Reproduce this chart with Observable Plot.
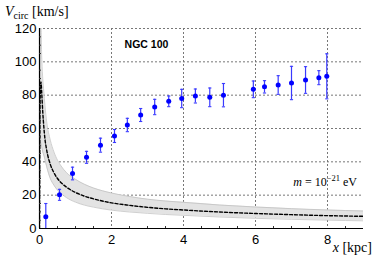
<!DOCTYPE html>
<html>
<head>
<meta charset="utf-8">
<script src="https://cdn.jsdelivr.net/npm/d3@7"></script>
<script src="https://cdn.jsdelivr.net/npm/@observablehq/plot@0.6"></script>
<style>
  html, body { margin: 0; padding: 0; background: white; }
</style>
</head>
<body>
<div id="chart"></div>
<script>
// Observed rotation curve of NGC 100
const obsX   = [0.175, 0.556, 0.917, 1.306, 1.694, 2.083, 2.44, 2.81, 3.2, 3.59, 3.95, 4.33, 4.73, 5.11, 5.94, 6.25, 6.63, 7.0, 7.39, 7.76, 7.98];
const obsV   = [7, 20.2, 33, 42.7, 50, 55.5, 62.1, 68.1, 72.9, 76.3, 78, 79.5, 78.7, 80, 83.5, 85, 86.1, 87.3, 89.1, 90.5, 91.3];
const obsErr = [8, 3.3, 3.8, 3.6, 4.2, 3.9, 4.0, 3.9, 4.6, 3.2, 5.5, 4.2, 5.6, 7.0, 5.0, 3.7, 5.6, 10, 8, 4.2, 13.5];

// Model curve (dashed) and its band
const modX    = [0, 0.015, 0.04, 0.06, 0.09, 0.12, 0.15, 0.2, 0.3, 0.4, 0.5, 0.6, 0.75, 1, 1.25, 1.5, 2, 2.5, 3, 3.5, 4, 5, 6, 7, 8, 9];
const modMid  = [0, 75, 88, 82, 70, 61, 54, 47, 38.5, 33.5, 30, 27.5, 24.8, 21.6, 19.4, 17.8, 15.4, 13.9, 12.7, 11.8, 11.1, 9.9, 9.0, 8.3, 7.7, 7.3];
const modHigh = [0, 122, 122, 104, 90, 82, 74, 64, 53, 46, 41, 37.5, 33.5, 29.5, 26.5, 24.3, 21.3, 19.2, 17.6, 16.5, 15.7, 14.1, 12.9, 11.9, 11.1, 10.5];
const modLow  = [0, 52, 51, 49, 46, 44, 41.5, 37, 30, 26, 23, 21, 18.5, 15.8, 14, 12.8, 11, 9.9, 9.1, 8.4, 7.9, 6.9, 6.1, 5.5, 5.0, 4.6];

const xTicks = [0, 2, 4, 6, 8];
const yTicks = [0, 20, 40, 60, 80, 100, 120];
const gridXs = [2, 4, 6, 8];
const gridYs = [20, 40, 60, 80, 100, 120];
const minorX = [0.5, 1, 1.5, 2.5, 3, 3.5, 4.5, 5, 5.5, 6.5, 7, 7.5, 8.5];
const minorY = [5, 10, 15, 25, 30, 35, 45, 50, 55, 65, 70, 75, 85, 90, 95, 105, 110, 115];

const galaxyName = "NGC 100";

const points = obsX.map((x, i) => ({x, v: obsV[i], e: obsErr[i]}));
const model = modX.map((x, i) => ({x, mid: modMid[i], high: modHigh[i], low: modLow[i]}));

const capSymbol = {
  draw(context, size) {
    const w = Math.sqrt(size / Math.PI);
    context.moveTo(-w, 0);
    context.lineTo(w, 0);
  }
};

const blue = "#0000ff";
const barBlue = "#3a3aff";

const chart = Plot.plot({
  width: 374,
  height: 259,
  marginLeft: 39,
  marginRight: 11,
  marginTop: 28,
  marginBottom: 31,
  x: {domain: [0, 9]},
  y: {domain: [0, 120]},
  style: {fontFamily: "'Liberation Sans', Arial, sans-serif", fontSize: "13px", background: "white", color: "black"},
  marks: [
    Plot.gridX(gridXs, {stroke: "#777", strokeOpacity: 1, strokeDasharray: "2,2", strokeWidth: 1}),
    Plot.gridY(gridYs, {stroke: "#777", strokeOpacity: 1, strokeDasharray: "2,2", strokeWidth: 1}),
    Plot.areaY(model, {x: "x", y1: "low", y2: "high", fill: "#e3e3e3", curve: "monotone-x", clip: true}),
    Plot.line(model, {x: "x", y: "high", stroke: "#bcbcbc", strokeWidth: 0.7, curve: "monotone-x", clip: true}),
    Plot.line(model, {x: "x", y: "low", stroke: "#bcbcbc", strokeWidth: 0.7, curve: "monotone-x", clip: true}),
    Plot.line(model, {x: "x", y: "mid", stroke: "black", strokeWidth: 1.4, strokeDasharray: "3,2", curve: "monotone-x", clip: true}),
    Plot.ruleX(points, {x: "x", y1: d => d.v - d.e, y2: d => d.v + d.e, stroke: barBlue, strokeWidth: 1.2, clip: true}),
    Plot.dot(points, {x: "x", y: d => d.v + d.e, symbol: capSymbol, r: 1.6, stroke: barBlue, strokeWidth: 1.1, fill: "none", clip: true}),
    Plot.dot(points, {x: "x", y: d => d.v - d.e, symbol: capSymbol, r: 1.6, stroke: barBlue, strokeWidth: 1.1, fill: "none", clip: true}),
    Plot.dot(points, {x: "x", y: "v", r: 2.5, fill: blue, stroke: "none"}),
    Plot.ruleX([0], {stroke: "black", strokeWidth: 1.2}),
    Plot.ruleY([0], {stroke: "black", strokeWidth: 1.2}),
    Plot.axisX(minorX, {tickSize: -2, text: null, label: null, stroke: "#333"}),
    Plot.axisY(minorY, {tickSize: -2, text: null, label: null, stroke: "#333"}),
    Plot.axisX(xTicks, {tickSize: 0, tickPadding: 6, label: null, fontSize: 13}),
    Plot.axisY(yTicks, {tickSize: 0, tickPadding: 3, label: null, fontSize: 13})
  ]
});

document.getElementById("chart").appendChild(chart);

const svg = d3.select(chart);

// Y-axis title: V_circ [km/s]
const yt = svg.append("text")
  .attr("x", 5).attr("y", 16)
  .attr("text-anchor", "start")
  .attr("font-family", "'Liberation Serif', 'Times New Roman', serif")
  .attr("font-size", 14)
  .attr("fill", "black");
yt.append("tspan").attr("font-style", "italic").text("V");
yt.append("tspan").attr("font-size", 10).attr("dy", 3).text("circ");
yt.append("tspan").attr("dy", -3).text(" [km/s]");

// X-axis title: x [kpc]
const xt = svg.append("text")
  .attr("x", 372).attr("y", 252)
  .attr("text-anchor", "end")
  .attr("font-family", "'Liberation Serif', 'Times New Roman', serif")
  .attr("font-size", 14)
  .attr("fill", "black");
xt.append("tspan").attr("font-style", "italic").text("x");
xt.append("tspan").text(" [kpc]");

// Mass annotation
const mt = svg.append("text")
  .attr("x", 357).attr("y", 186)
  .attr("text-anchor", "end")
  .attr("font-family", "'Liberation Serif', 'Times New Roman', serif")
  .attr("font-size", 12)
  .attr("fill", "black");
mt.append("tspan").attr("font-style", "italic").text("m");
mt.append("tspan").text(" = 10");
mt.append("tspan").attr("font-size", 8.5).attr("dy", -5).text("\u221221");
mt.append("tspan").attr("dy", 5).text(" eV");

// Galaxy name
svg.append("text")
  .attr("x", 146.5).attr("y", 47.5)
  .attr("text-anchor", "middle")
  .attr("font-family", "'Liberation Sans', Arial, sans-serif")
  .attr("font-weight", "bold")
  .attr("font-size", 10.5)
  .attr("fill", "black")
  .text(galaxyName);
</script>
</body>
</html>
